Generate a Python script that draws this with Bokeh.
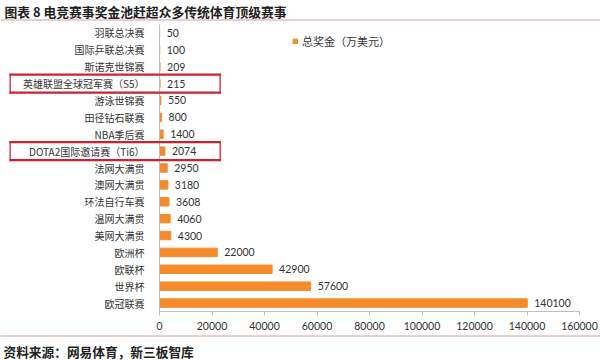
from bokeh.plotting import figure
from bokeh.models import (FactorRange, Range1d, ColumnDataSource, Label,
                          FixedTicker, NumeralTickFormatter)
from bokeh.core.properties import value
from bokeh.embed import file_html
from bokeh.resources import INLINE

# ---- data (top to bottom as in the reference) ----
categories = ["羽联总决赛", "国际乒联总决赛", "斯诺克世锦赛", "英雄联盟全球冠军赛（S5）",
              "游泳世锦赛", "田径钻石联赛", "NBA季后赛", "DOTA2国际邀请赛（Ti6）",
              "法网大满贯", "澳网大满贯", "环法自行车赛", "温网大满贯", "美网大满贯",
              "欧洲杯", "欧联杯", "世界杯", "欧冠联赛"]
prize = [50, 100, 209, 215, 550, 800, 1400, 2074, 2950, 3180, 3608, 4060, 4300,
         22000, 42900, 57600, 140100]
x_ticks = [0, 20000, 40000, 60000, 80000, 100000, 120000, 140000, 160000]
highlighted = ["英雄联盟全球冠军赛（S5）", "DOTA2国际邀请赛（Ti6）"]
series_name = "总奖金（万美元）"
title_text = "图表 8 电竞赛事奖金池赶超众多传统体育顶级赛事"
source_text = "资料来源：网易体育，新三板智库"

CJK = "Noto Sans CJK SC"
NUM = "Lato"
ORANGE = "#F68B2C"
TXT = "#333333"
RED = "#D0202E"
RULE = "#CFA0AA"

src = ColumnDataSource(dict(cat=categories, val=prize, lbl=[str(v) for v in prize]))

p = figure(width=600, height=360, output_backend="svg", toolbar_location=None,
           y_range=FactorRange(factors=list(reversed(categories))),
           x_range=Range1d(0, 160000),
           min_border_left=159, min_border_right=21, min_border_top=24, min_border_bottom=49)
p.title = None
p.outline_line_color = None
p.background_fill_color = "white"
p.border_fill_color = "white"
p.xgrid.grid_line_color = None
p.ygrid.grid_line_color = None

p.hbar(y="cat", right="val", left=0, height=0.5, source=src, color=ORANGE,
       legend_label=series_name)
p.text(x="val", y="cat", text="lbl", source=src, x_offset=7, text_baseline="middle",
       text_align="left", text_font=value(NUM), text_font_size="10.5px", text_color=TXT)

# axes
xa = p.xaxis[0]
xa.ticker = FixedTicker(ticks=x_ticks)
xa.formatter = NumeralTickFormatter(format="0")
xa.axis_line_color = "#BFBFBF"
xa.major_tick_line_color = "#BFBFBF"
xa.major_tick_out = 4
xa.major_tick_in = 0
xa.minor_tick_line_color = None
xa.major_label_text_font = NUM
xa.major_label_text_font_size = "10.5px"
xa.major_label_text_color = TXT
xa.major_label_standoff = 6

ya = p.yaxis[0]
ya.axis_line_color = "#BFBFBF"
ya.major_tick_line_color = None
ya.minor_tick_line_color = None
ya.major_label_text_font = CJK
ya.major_label_text_font_size = "10px"
ya.major_label_text_color = TXT
ya.major_label_standoff = 9

# legend
lg = p.legend[0]
lg.location = (133, 262)
lg.border_line_color = None
lg.background_fill_alpha = 0
lg.padding = 0
lg.margin = 0
lg.spacing = 0
lg.glyph_width = 6
lg.glyph_height = 6
lg.label_height = 12
lg.label_standoff = 4
lg.label_text_font = CJK
lg.label_text_font_size = "11px"
lg.label_text_color = TXT

# title and source text (placed in side panels so they are not clipped to the frame)
p.add_layout(Label(x=4, y=1, x_units="canvas", y_units="canvas", text=title_text,
                   text_font=CJK, text_font_size="12.8px", text_font_style="bold",
                   text_color="#222222", text_baseline="top"), "above")
p.add_layout(Label(x=3, y=341, x_units="canvas", y_units="canvas", text=source_text,
                   text_font=CJK, text_font_size="12.7px", text_font_style="bold",
                   text_color="#222222", text_baseline="top"), "below")


def bar_mark(x, y, w, h, color, side):
    # solid rectangle drawn as the background of an (almost) empty label;
    # padding order here is (left, right, top, bottom)
    p.add_layout(Label(x=x, y=y, x_units="canvas", y_units="canvas", text=" ",
                       text_font_size="1px", anchor="top_left",
                       padding=(0, w, h, 0), background_fill_color=color,
                       background_fill_alpha=1), side)


# separator lines under the title and above the source
bar_mark(0, 19, 600, 0, RULE, "above")
bar_mark(0, 335, 600, 0, RULE, "below")

# red highlight boxes around two rows (canvas coordinates derived from the category rows)
row_h = 287 / len(categories)
for k, name in enumerate(highlighted):
    i = categories.index(name)
    cy = 24 + (i + 0.5) * row_h
    top, bot = cy - 10, cy + 8
    side = "above" if k == 0 else "below"
    bar_mark(9, top, 211, 1, RED, side)          # top edge
    bar_mark(9, bot, 211, 1, RED, side)          # bottom edge
    bar_mark(9, top, 1, 19, RED, "right")        # left edge
    bar_mark(219, top, 1, 19, RED, "right")      # right edge

open("out.html", "w").write(file_html(p, INLINE))
